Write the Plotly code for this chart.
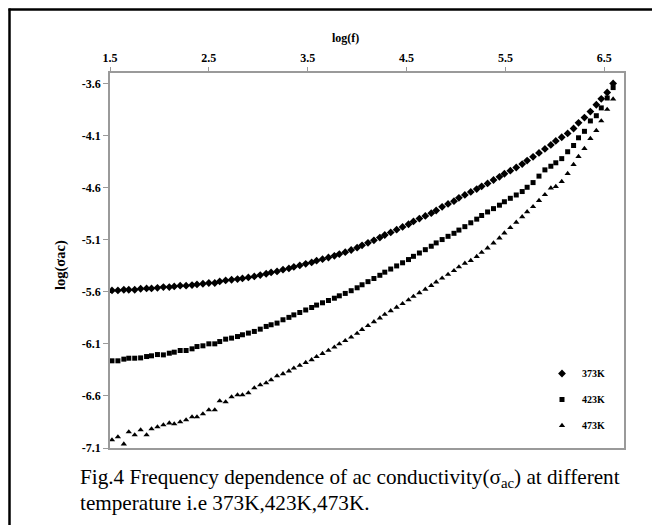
import plotly.graph_objects as go

log_f = [1.52, 1.58, 1.64, 1.69, 1.75, 1.81, 1.87, 1.92, 1.98, 2.04,
         2.10, 2.15, 2.21, 2.27, 2.33, 2.38, 2.44, 2.50, 2.56, 2.61,
         2.67, 2.73, 2.79, 2.84, 2.90, 2.96, 3.02, 3.08, 3.13, 3.19,
         3.25, 3.31, 3.36, 3.42, 3.48, 3.54, 3.59, 3.65, 3.71, 3.77,
         3.82, 3.88, 3.94, 4.00, 4.05, 4.11, 4.17, 4.23, 4.28, 4.34,
         4.40, 4.46, 4.52, 4.57, 4.63, 4.69, 4.75, 4.80, 4.86, 4.92,
         4.98, 5.03, 5.09, 5.15, 5.21, 5.26, 5.32, 5.38, 5.44, 5.49,
         5.55, 5.61, 5.67, 5.72, 5.78, 5.84, 5.90, 5.96, 6.01, 6.07,
         6.13, 6.19, 6.24, 6.30, 6.36, 6.42, 6.47, 6.53, 6.59]

sigma_373K = [-5.587, -5.587, -5.581, -5.581, -5.581, -5.571, -5.568, -5.568, -5.562, -5.555,
              -5.555, -5.549, -5.542, -5.542, -5.536, -5.530, -5.523, -5.516, -5.516, -5.501,
              -5.491, -5.485, -5.478, -5.472, -5.462, -5.453, -5.440, -5.427, -5.414, -5.405,
              -5.388, -5.376, -5.362, -5.347, -5.332, -5.318, -5.302, -5.287, -5.271, -5.255,
              -5.238, -5.220, -5.199, -5.177, -5.154, -5.130, -5.106, -5.080, -5.055, -5.030,
              -5.004, -4.978, -4.952, -4.925, -4.898, -4.872, -4.846, -4.820, -4.785, -4.757,
              -4.730, -4.698, -4.670, -4.642, -4.614, -4.588, -4.560, -4.527, -4.497, -4.467,
              -4.438, -4.407, -4.374, -4.341, -4.305, -4.267, -4.229, -4.190, -4.152, -4.117,
              -4.080, -4.033, -3.978, -3.928, -3.870, -3.805, -3.748, -3.687, -3.600]

sigma_423K = [-6.263, -6.263, -6.247, -6.238, -6.238, -6.235, -6.222, -6.215, -6.203, -6.206,
              -6.190, -6.180, -6.164, -6.164, -6.148, -6.126, -6.119, -6.100, -6.100, -6.078,
              -6.055, -6.045, -6.030, -6.013, -5.997, -5.981, -5.959, -5.933, -5.917, -5.901,
              -5.869, -5.846, -5.822, -5.799, -5.775, -5.751, -5.728, -5.706, -5.684, -5.662,
              -5.639, -5.616, -5.590, -5.562, -5.533, -5.503, -5.473, -5.442, -5.412, -5.382,
              -5.352, -5.322, -5.291, -5.260, -5.228, -5.196, -5.163, -5.131, -5.099, -5.068,
              -5.039, -5.008, -4.975, -4.938, -4.903, -4.868, -4.834, -4.802, -4.769, -4.736,
              -4.703, -4.671, -4.638, -4.597, -4.552, -4.490, -4.430, -4.395, -4.362, -4.322,
              -4.256, -4.196, -4.122, -4.060, -3.960, -3.910, -3.835, -3.740, -3.640]

sigma_473K = [-7.023, -6.994, -7.062, -6.946, -6.975, -6.927, -6.975, -6.917, -6.898, -6.879,
              -6.860, -6.869, -6.850, -6.831, -6.802, -6.802, -6.773, -6.735, -6.735, -6.648,
              -6.658, -6.610, -6.590, -6.590, -6.571, -6.523, -6.494, -6.475, -6.446, -6.408,
              -6.388, -6.361, -6.334, -6.307, -6.280, -6.253, -6.223, -6.193, -6.163, -6.132,
              -6.101, -6.070, -6.036, -6.000, -5.963, -5.926, -5.889, -5.852, -5.818, -5.783,
              -5.749, -5.714, -5.679, -5.645, -5.610, -5.576, -5.541, -5.507, -5.470, -5.434,
              -5.398, -5.362, -5.327, -5.300, -5.262, -5.222, -5.180, -5.133, -5.085, -5.036,
              -4.985, -4.933, -4.880, -4.832, -4.783, -4.725, -4.668, -4.605, -4.590, -4.542,
              -4.465, -4.379, -4.302, -4.225, -4.129, -4.052, -3.960, -3.850, -3.750]

series_names = ["373K", "423K", "473K"]
x_ticks = [1.5, 2.5, 3.5, 4.5, 5.5, 6.5]
y_ticks = [-3.6, -4.1, -4.6, -5.1, -5.6, -6.1, -6.6, -7.1]

serif = "Liberation Serif"
axis_grey = "#9a9a9a"

PW, PH = 514, 375  # plot area size in px


def px(xr):
    return (xr - 110) / PW


def py(yr):
    return (448 - yr) / PH


fig = go.Figure()
symbols = ["diamond", "square", "triangle-up"]
sizes = [6, 5, 5.5]
for name, ys, sym, sz in zip(series_names, [sigma_373K, sigma_423K, sigma_473K], symbols, sizes):
    fig.add_trace(go.Scatter(
        x=log_f, y=ys, mode="markers", name=name, legendgroup=name,
        marker=dict(symbol=sym, size=sz, color="black", line=dict(width=0)),
    ))

fig.update_layout(
    width=652, height=525,
    margin=dict(l=110, r=28, t=73, b=77),
    paper_bgcolor="white", plot_bgcolor="white",
    font=dict(family=serif, color="black"),
    showlegend=True,
    legend=dict(
        x=px(542), y=py(359), xanchor="left", yanchor="top",
        bgcolor="rgba(0,0,0,0)", borderwidth=0,
        font=dict(family=serif, size=10, weight="bold", color="black"),
        tracegroupgap=7, itemwidth=30,
    ),
    xaxis=dict(
        side="top", range=[1.5, 6.7], tickvals=x_ticks,
        ticktext=[f"{v:.1f}" for v in x_ticks],
        ticks="outside", ticklen=4, tickcolor=axis_grey,
        showline=True, linecolor=axis_grey, linewidth=1.5, mirror=True,
        showgrid=False, zeroline=False,
        tickfont=dict(family=serif, size=12, weight="bold", color="black"),
    ),
    yaxis=dict(
        range=[-7.1, -3.5], tickvals=y_ticks,
        ticktext=[f"{v:.1f}" for v in y_ticks],
        ticks="outside", ticklen=5, tickcolor=axis_grey,
        showline=True, linecolor=axis_grey, linewidth=1.5, mirror=True,
        showgrid=False, zeroline=False,
        tickfont=dict(family=serif, size=12, weight="bold", color="black"),
    ),
    annotations=[
        dict(text="log(f)", xref="paper", yref="paper",
             x=px(345), y=py(38), showarrow=False,
             xanchor="center", yanchor="middle",
             font=dict(family=serif, size=12, weight="bold", color="black")),
        dict(text="log(σac)", xref="paper", yref="paper",
             x=px(60), y=py(265), showarrow=False,
             textangle=-90, xanchor="center", yanchor="middle",
             font=dict(family=serif, size=14.5, weight="bold", color="black")),
        dict(text="Fig.4 Frequency dependence of ac conductivity(σ<sub>ac</sub>) at different",
             xref="paper", yref="paper",
             x=px(78), y=py(478), showarrow=False,
             xanchor="left", yanchor="middle",
             font=dict(family=serif, size=21.2, color="black")),
        dict(text="temperature i.e 373K,423K,473K.",
             xref="paper", yref="paper",
             x=px(78), y=py(503), showarrow=False,
             xanchor="left", yanchor="middle",
             font=dict(family=serif, size=21.2, color="black")),
    ],
    shapes=[
        dict(type="line", xref="paper", yref="paper",
             x0=px(9.5), x1=px(9.5), y0=py(525), y1=py(8.5),
             line=dict(color="black", width=2.5)),
        dict(type="line", xref="paper", yref="paper",
             x0=px(8.5), x1=px(652), y0=py(9.5), y1=py(9.5),
             line=dict(color="black", width=2.5)),
    ],
)

fig.write_html(
    "out.html",
    config={"displayModeBar": False},
    post_script="document.body.style.margin='0';document.body.style.overflow='hidden';",
)
